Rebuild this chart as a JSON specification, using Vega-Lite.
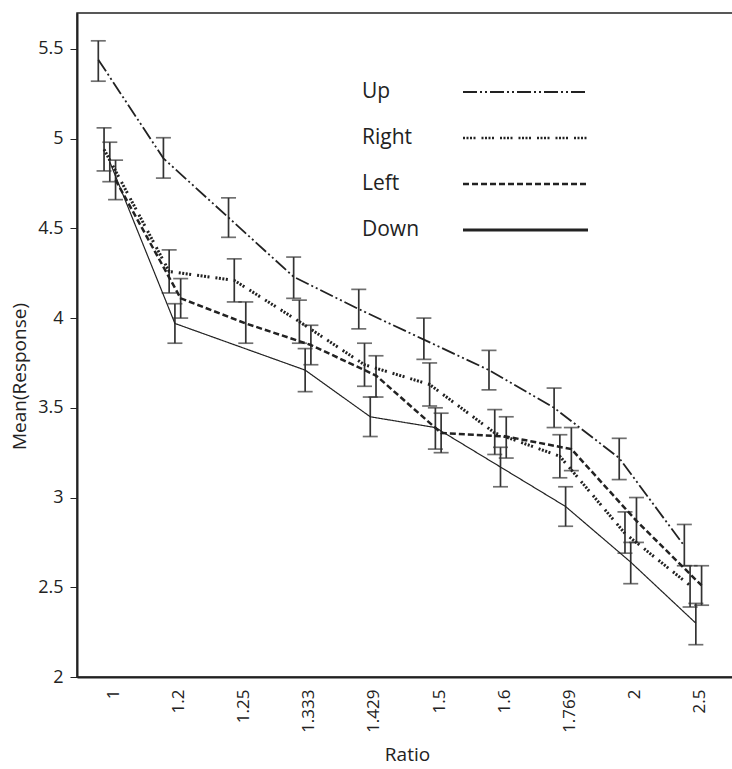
{
  "$schema": "https://vega.github.io/schema/vega-lite/v6.json",
  "autosize": "none",
  "padding": {"left": 77, "top": 13, "right": 0, "bottom": 92},
  "width": 660,
  "height": 664,
  "background": "white",
  "config": {
    "font": "Open Sans",
    "view": {"stroke": "#222", "strokeWidth": 1.5},
    "axis": {"labelFont": "Open Sans", "titleFont": "Open Sans", "labelColor": "#222", "titleColor": "#222", "domainColor": "#222", "tickColor": "#222", "grid": false, "titleFontWeight": "normal"}
  },
  "data": {"values": [
    {"Ratio": "1", "Direction": "Up", "mean": 5.44, "lo": 5.32, "hi": 5.545},
    {"Ratio": "1.2", "Direction": "Up", "mean": 4.89, "lo": 4.78, "hi": 5.005},
    {"Ratio": "1.25", "Direction": "Up", "mean": 4.56, "lo": 4.45, "hi": 4.67},
    {"Ratio": "1.333", "Direction": "Up", "mean": 4.23, "lo": 4.11, "hi": 4.34},
    {"Ratio": "1.429", "Direction": "Up", "mean": 4.05, "lo": 3.94, "hi": 4.16},
    {"Ratio": "1.5", "Direction": "Up", "mean": 3.88, "lo": 3.77, "hi": 4.0},
    {"Ratio": "1.6", "Direction": "Up", "mean": 3.71, "lo": 3.6, "hi": 3.82},
    {"Ratio": "1.769", "Direction": "Up", "mean": 3.5, "lo": 3.39, "hi": 3.61},
    {"Ratio": "2", "Direction": "Up", "mean": 3.22, "lo": 3.1, "hi": 3.33},
    {"Ratio": "2.5", "Direction": "Up", "mean": 2.73, "lo": 2.62, "hi": 2.85},
    {"Ratio": "1", "Direction": "Right", "mean": 4.94, "lo": 4.82, "hi": 5.06},
    {"Ratio": "1.2", "Direction": "Right", "mean": 4.26, "lo": 4.14, "hi": 4.38},
    {"Ratio": "1.25", "Direction": "Right", "mean": 4.21, "lo": 4.09, "hi": 4.33},
    {"Ratio": "1.333", "Direction": "Right", "mean": 3.98, "lo": 3.86, "hi": 4.1},
    {"Ratio": "1.429", "Direction": "Right", "mean": 3.74, "lo": 3.62, "hi": 3.86},
    {"Ratio": "1.5", "Direction": "Right", "mean": 3.63, "lo": 3.51, "hi": 3.75},
    {"Ratio": "1.6", "Direction": "Right", "mean": 3.36, "lo": 3.24, "hi": 3.49},
    {"Ratio": "1.769", "Direction": "Right", "mean": 3.23, "lo": 3.11, "hi": 3.35},
    {"Ratio": "2", "Direction": "Right", "mean": 2.8, "lo": 2.69, "hi": 2.92},
    {"Ratio": "2.5", "Direction": "Right", "mean": 2.51, "lo": 2.39, "hi": 2.62},
    {"Ratio": "1", "Direction": "Left", "mean": 4.77, "lo": 4.66, "hi": 4.88},
    {"Ratio": "1.2", "Direction": "Left", "mean": 4.11, "lo": 4.0, "hi": 4.22},
    {"Ratio": "1.25", "Direction": "Left", "mean": 3.97, "lo": 3.86, "hi": 4.09},
    {"Ratio": "1.333", "Direction": "Left", "mean": 3.85, "lo": 3.74, "hi": 3.96},
    {"Ratio": "1.429", "Direction": "Left", "mean": 3.68, "lo": 3.56, "hi": 3.79},
    {"Ratio": "1.5", "Direction": "Left", "mean": 3.36, "lo": 3.25, "hi": 3.47},
    {"Ratio": "1.6", "Direction": "Left", "mean": 3.34, "lo": 3.22, "hi": 3.45},
    {"Ratio": "1.769", "Direction": "Left", "mean": 3.27, "lo": 3.15, "hi": 3.39},
    {"Ratio": "2", "Direction": "Left", "mean": 2.87, "lo": 2.75, "hi": 3.0},
    {"Ratio": "2.5", "Direction": "Left", "mean": 2.51, "lo": 2.4, "hi": 2.62},
    {"Ratio": "1", "Direction": "Down", "mean": 4.87, "lo": 4.76, "hi": 4.98},
    {"Ratio": "1.2", "Direction": "Down", "mean": 3.97, "lo": 3.86, "hi": 4.08},
    {"Ratio": "1.333", "Direction": "Down", "mean": 3.71, "lo": 3.59, "hi": 3.83},
    {"Ratio": "1.429", "Direction": "Down", "mean": 3.45, "lo": 3.34, "hi": 3.56},
    {"Ratio": "1.5", "Direction": "Down", "mean": 3.39, "lo": 3.27, "hi": 3.5},
    {"Ratio": "1.6", "Direction": "Down", "mean": 3.17, "lo": 3.06, "hi": 3.28},
    {"Ratio": "1.769", "Direction": "Down", "mean": 2.95, "lo": 2.84, "hi": 3.06},
    {"Ratio": "2", "Direction": "Down", "mean": 2.64, "lo": 2.52, "hi": 2.75},
    {"Ratio": "2.5", "Direction": "Down", "mean": 2.3, "lo": 2.18, "hi": 2.41}
  ]},
  "encoding": {
    "x": {
      "field": "Ratio", "type": "ordinal",
      "sort": ["1", "1.2", "1.25", "1.333", "1.429", "1.5", "1.6", "1.769", "2", "2.5"],
      "scale": {"paddingInner": 0, "paddingOuter": 0.068},
      "axis": {"title": "Ratio", "labelAngle": -90, "ticks": false, "labelPadding": 12, "labelFontSize": 17, "titleFontSize": 19, "titlePadding": 13, "domainWidth": 2}
    },
    "xOffset": {
      "field": "Direction", "type": "nominal",
      "scale": {"type": "point", "domain": ["Up", "Right", "Down", "Left"], "range": [14, 37]}
    },
    "y": {
      "field": "mean", "type": "quantitative",
      "scale": {"domain": [2, 5.7], "nice": false, "zero": false},
      "axis": {"title": "Mean(Response)", "values": [2, 2.5, 3, 3.5, 4, 4.5, 5, 5.5], "format": "~g", "labelFontSize": 18, "titleFontSize": 19, "titleY": 363, "tickSize": 7, "labelPadding": 7, "titlePadding": 8, "domainWidth": 2}
    },
    "strokeDash": {
      "field": "Direction", "type": "nominal",
      "scale": {"domain": ["Up", "Right", "Left", "Down"], "range": [[14, 3, 2, 3, 2, 3], [2, 1.5, 2, 1.5, 2, 1.5, 2, 6], [6, 3], [1, 0]]},
      "legend": {
        "title": null, "orient": "none", "legendX": 285, "legendY": 67, "padding": 0,
        "symbolType": "stroke", "symbolSize": 15625, "symbolStrokeWidth": 2.5, "symbolStrokeColor": "#222",
        "rowPadding": 24,
        "labelFontSize": 21, "labelFont": "Open Sans", "labelColor": "#222",
        "encode": {
          "labels": {"update": {"x": {"value": 0}, "y": {"value": 12}}},
          "symbols": {"update": {"x": {"value": 163.5}, "y": {"value": 12}, "strokeWidth": {"signal": "datum.value === 'Down' ? 3.2 : (datum.value === 'Up' ? 2 : 2.6)"}}}
        }
      }
    }
  },
  "layer": [
    {
      "mark": {"type": "rule", "color": "#333", "strokeWidth": 1.7},
      "encoding": {
        "y": {"field": "lo", "type": "quantitative"},
        "y2": {"field": "hi"},
        "strokeDash": null
      }
    },
    {
      "mark": {"type": "tick", "color": "#333", "size": 15, "thickness": 1.7},
      "encoding": {"y": {"field": "lo", "type": "quantitative"}, "strokeDash": null}
    },
    {
      "mark": {"type": "tick", "color": "#333", "size": 15, "thickness": 1.7},
      "encoding": {"y": {"field": "hi", "type": "quantitative"}, "strokeDash": null}
    },
    {
      "transform": [{"filter": "datum.Direction === 'Up'"}],
      "mark": {"type": "line", "color": "#222", "strokeWidth": 1.8}
    },
    {
      "transform": [{"filter": "datum.Direction === 'Right'"}],
      "mark": {"type": "line", "color": "#222", "strokeWidth": 3}
    },
    {
      "transform": [{"filter": "datum.Direction === 'Left'"}],
      "mark": {"type": "line", "color": "#222", "strokeWidth": 2.5}
    },
    {
      "transform": [{"filter": "datum.Direction === 'Down'"}],
      "mark": {"type": "line", "color": "#222", "strokeWidth": 1.2}
    }
  ]
}
